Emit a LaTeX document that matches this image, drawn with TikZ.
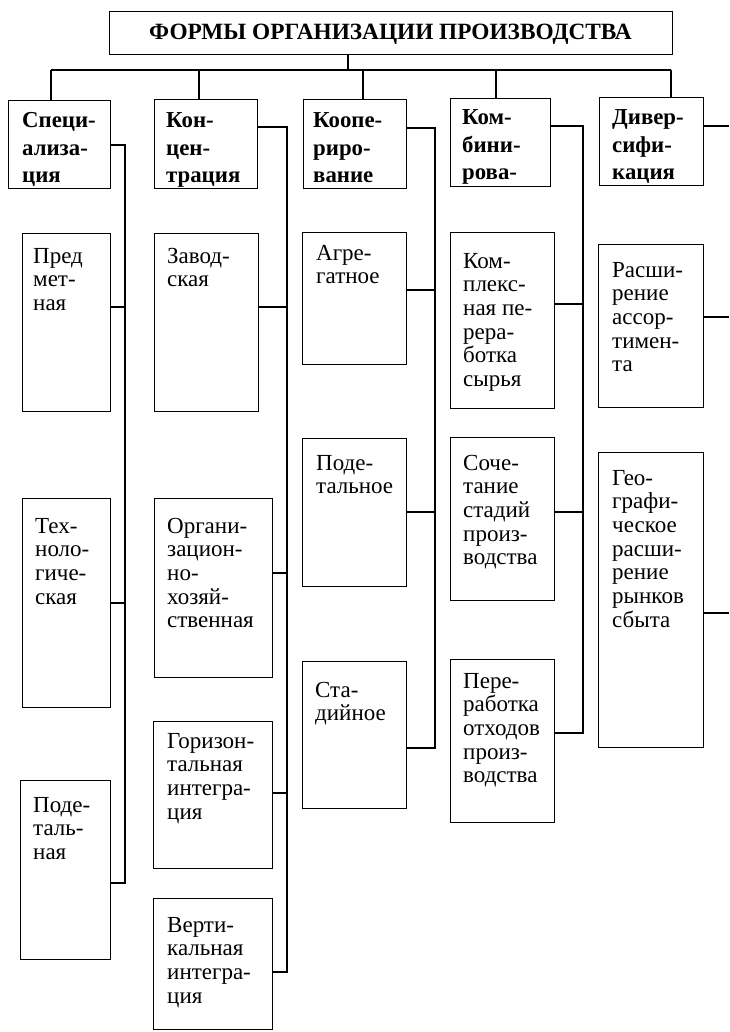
\documentclass[tikz,border=0pt]{standalone}
\usepackage{fontspec}
\setmainfont{Liberation Serif}
\usetikzlibrary{calc}

\tikzset{
  frame/.style={draw, line width=1.4pt, inner sep=0pt, fill=white},
  wire/.style={line width=1.3pt},
  headtxt/.style={inner sep=0pt, font=\fontsize{22.8}{27.5}\selectfont\bfseries},
  itemtxt/.style={inner sep=0pt, font=\fontsize{23}{23.7}\selectfont},
}

% #1 text style, #2 name, #3-#6 box corners (x1,y1,x2,y2),
% #7 left padding, #8 first baseline below the top edge, #9 lines;
% the text is clipped to the inside of its frame
\newcommand\labelbox[9]{%
  \node[frame, anchor=north west,
        minimum width={(#5-#3)*1pt}, minimum height={(#6-#4)*1pt}]
        (#2) at (#3,#4) {};
  \begin{scope}
    \clip ([shift={(0.7,-0.7)}]#2.south west)
          rectangle ([shift={(-0.7,0.7)}]#2.north east);
    \node[#1, anchor=base west] (#2-t) at ([shift={(#7,#8)}]#2.north west)
          {\begin{tabular}[t]{@{}l@{}}#9\end{tabular}};
  \end{scope}
}

\begin{document}
\begin{tikzpicture}[x=1pt, y=-1pt]
\useasboundingbox (0,0) rectangle (729,1032);

% title
\node[frame, anchor=north west, minimum width=563pt, minimum height=43pt]
  (title) at (109,11) {};
\node[inner sep=0pt, font=\fontsize{23.3}{26}\selectfont\bfseries, anchor=base]
  (title-t) at (390.5,40) {ФОРМЫ ОРГАНИЗАЦИИ ПРОИЗВОДСТВА};

% headers
\labelbox{headtxt}{spec}{8}{100}{110}{188}{14}{28}{Специ-\\ализа-\\ция}
\labelbox{headtxt}{konc}{154}{99}{257}{188}{12}{29}{Кон-\\цен-\\трация}
\labelbox{headtxt}{koop}{303}{99}{406}{188}{10}{29}{Коопе-\\риро-\\вание}
\labelbox{headtxt}{komb}{450}{98}{550}{186}{12}{27}{Ком-\\бини-\\рова-}
\labelbox{headtxt}{div}{599}{97}{703}{185}{13}{28}{Дивер-\\сифи-\\кация}

% specialisation
\labelbox{itemtxt}{pred}{22}{233}{110}{411}{11}{30}{Пред\\мет-\\ная}
\labelbox{itemtxt}{tekh}{22}{498}{110}{707}{13}{35}{Тех-\\ноло-\\гиче-\\ская}
\labelbox{itemtxt}{podA}{20}{780}{110}{959}{13}{32}{Поде-\\таль-\\ная}

% concentration
\labelbox{itemtxt}{zavod}{154}{233}{258}{411}{13}{30}{Завод-\\ская}
\labelbox{itemtxt}{organ}{154}{498}{272}{677}{13}{35}{Органи-\\зацион-\\но-\\хозяй-\\ственная}
\labelbox{itemtxt}{goriz}{153}{721}{272}{868}{14}{27}{Горизон-\\тальная\\интегра-\\ция}
\labelbox{itemtxt}{vert}{153}{898}{272}{1029}{14}{34}{Верти-\\кальная\\интегра-\\ция}

% cooperation
\labelbox{itemtxt}{agreg}{302}{232}{406}{364}{14}{28}{Агре-\\гатное}
\labelbox{itemtxt}{podB}{302}{438}{406}{586}{14}{32}{Поде-\\тальное}
\labelbox{itemtxt}{stad}{302}{661}{406}{808}{13}{36}{Ста-\\дийное}

% combination
\labelbox{itemtxt}{kompl}{450}{232}{554}{408}{13}{36}{Ком-\\плекс-\\ная пе-\\рера-\\ботка\\сырья}
\labelbox{itemtxt}{sochet}{450}{437}{554}{600}{13}{33}{Соче-\\тание\\стадий\\произ-\\водства}
\labelbox{itemtxt}{perer}{450}{659}{554}{822}{13}{29}{Пере-\\работка\\отходов\\произ-\\водства}

% diversification
\labelbox{itemtxt}{rassh}{598}{244}{703}{407}{14}{33}{Расши-\\рение\\ассор-\\тимен-\\та}
\labelbox{itemtxt}{geogr}{598}{452}{703}{747}{14}{33}{Гео-\\графи-\\ческое\\расши-\\рение\\рынков\\сбыта}

% bus under the title
\coordinate (stem) at (348,70);
\coordinate (d1) at (51,70);
\coordinate (d2) at (199,70);
\coordinate (d3) at (363,70);
\coordinate (d4) at (496,70);
\coordinate (d5) at (671,70);
\draw[wire] (title.south -| stem) -- (stem);
\draw[wire] (d1) -- (d5);
\draw[wire] (d1) -- (d1 |- spec.north);
\draw[wire] (d2) -- (d2 |- konc.north);
\draw[wire] (d3) -- (d3 |- koop.north);
\draw[wire] (d4) -- (d4 |- komb.north);
\draw[wire] (d5) -- (d5 |- div.north);

% spines with their branches
\coordinate (s1) at (125,145);
\coordinate (s1a) at (125,307);
\coordinate (s1b) at (125,603);
\coordinate (s1c) at (125,883);
\draw[wire] (spec.east |- s1) -- (s1) -- (s1c) -- (podA.east |- s1c);
\draw[wire] (pred.east |- s1a) -- (s1a);
\draw[wire] (tekh.east |- s1b) -- (s1b);

\coordinate (s2) at (287,127);
\coordinate (s2a) at (287,307);
\coordinate (s2b) at (287,573);
\coordinate (s2c) at (287,793);
\coordinate (s2d) at (287,972);
\draw[wire] (konc.east |- s2) -- (s2) -- (s2d) -- (vert.east |- s2d);
\draw[wire] (zavod.east |- s2a) -- (s2a);
\draw[wire] (organ.east |- s2b) -- (s2b);
\draw[wire] (goriz.east |- s2c) -- (s2c);

\coordinate (s3) at (435,128);
\coordinate (s3a) at (435,290);
\coordinate (s3b) at (435,512);
\coordinate (s3c) at (435,748);
\draw[wire] (koop.east |- s3) -- (s3) -- (s3c) -- (stad.east |- s3c);
\draw[wire] (agreg.east |- s3a) -- (s3a);
\draw[wire] (podB.east |- s3b) -- (s3b);

\coordinate (s4) at (583,126);
\coordinate (s4a) at (583,304);
\coordinate (s4b) at (583,512);
\coordinate (s4c) at (583,733);
\draw[wire] (komb.east |- s4) -- (s4) -- (s4c) -- (perer.east |- s4c);
\draw[wire] (kompl.east |- s4a) -- (s4a);
\draw[wire] (sochet.east |- s4b) -- (s4b);

\coordinate (e1) at (729,126);
\coordinate (e2) at (729,317);
\coordinate (e3) at (729,613);
\draw[wire] (div.east |- e1) -- (e1);
\draw[wire] (rassh.east |- e2) -- (e2);
\draw[wire] (geogr.east |- e3) -- (e3);
\end{tikzpicture}
\end{document}
